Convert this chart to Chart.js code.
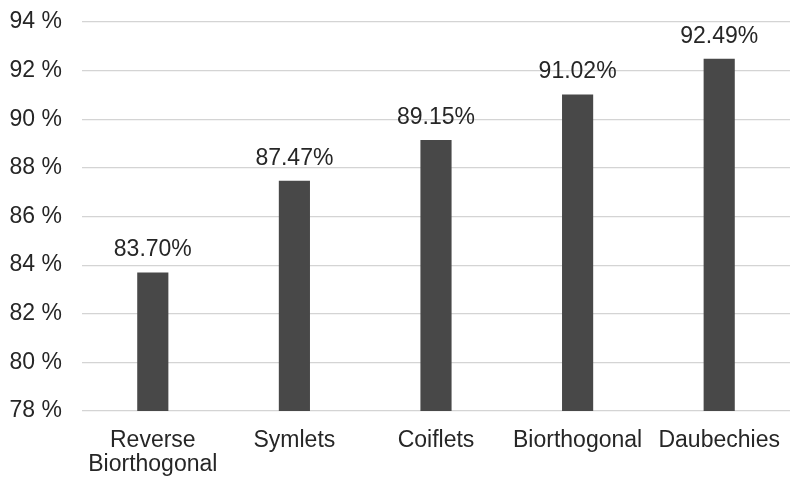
<!DOCTYPE html>
<html>
<head>
<meta charset="utf-8">
<script src="https://cdn.jsdelivr.net/npm/chart.js@4"></script>
<style>
    html, body { margin: 0; padding: 0; background: #ffffff; }
    #wrap { width: 800px; height: 484px; }
</style>
</head>
<body>
<div id="wrap"><canvas id="chart" width="800" height="484"></canvas></div>
<script>
// ---- chart data ----
const categories = [['Reverse', 'Biorthogonal'], 'Symlets', 'Coiflets', 'Biorthogonal', 'Daubechies'];
const accuracy = [83.70, 87.47, 89.15, 91.02, 92.49];
const yMin = 78;
const yMax = 94;
const yStep = 2;

const FONT = "'Liberation Sans', Arial, sans-serif";
const TEXT_COLOR = '#262626';

// draws value labels above each bar
const valueLabels = {
    id: 'valueLabels',
    afterDatasetsDraw(chart) {
        const ctx = chart.ctx;
        const meta = chart.getDatasetMeta(0);
        ctx.save();
        ctx.font = '23px ' + FONT;
        ctx.fillStyle = TEXT_COLOR;
        ctx.textAlign = 'center';
        ctx.textBaseline = 'alphabetic';
        meta.data.forEach((bar, i) => {
            ctx.fillText(accuracy[i].toFixed(2) + '%', bar.x, bar.y - 16);
        });
        ctx.restore();
    }
};

const ctx = document.getElementById('chart').getContext('2d');
new Chart(ctx, {
    type: 'bar',
    data: {
        labels: categories,
        datasets: [{
            data: accuracy,
            backgroundColor: '#484848',
            borderWidth: 0,
            barPercentage: 0.22,
            categoryPercentage: 1.0
        }]
    },
    options: {
        responsive: false,
        animation: false,
        layout: { padding: { top: 22, right: 10, left: 0, bottom: 0 } },
        plugins: {
            legend: { display: false },
            tooltip: { enabled: false }
        },
        scales: {
            x: {
                grid: { display: false },
                border: { display: false },
                ticks: {
                    color: TEXT_COLOR,
                    font: { family: FONT, size: 23, lineHeight: 1.04 },
                    padding: 10,
                    maxRotation: 0,
                    autoSkip: false
                },
                afterFit: s => { s.height = 73; }
            },
            y: {
                min: yMin,
                max: yMax,
                grid: { color: '#d4d4d4', lineWidth: 1.2, drawTicks: false },
                border: { display: false },
                ticks: {
                    stepSize: yStep,
                    color: TEXT_COLOR,
                    font: { family: FONT, size: 23 },
                    padding: 20,
                    callback: v => v + ' %'
                },
                afterFit: s => {
                    s.width = 82;
                    // tick padding would otherwise push the plot top down
                    s.paddingTop = 0;
                    s.paddingBottom = 0;
                }
            }
        }
    },
    plugins: [valueLabels]
});
</script>
</body>
</html>
